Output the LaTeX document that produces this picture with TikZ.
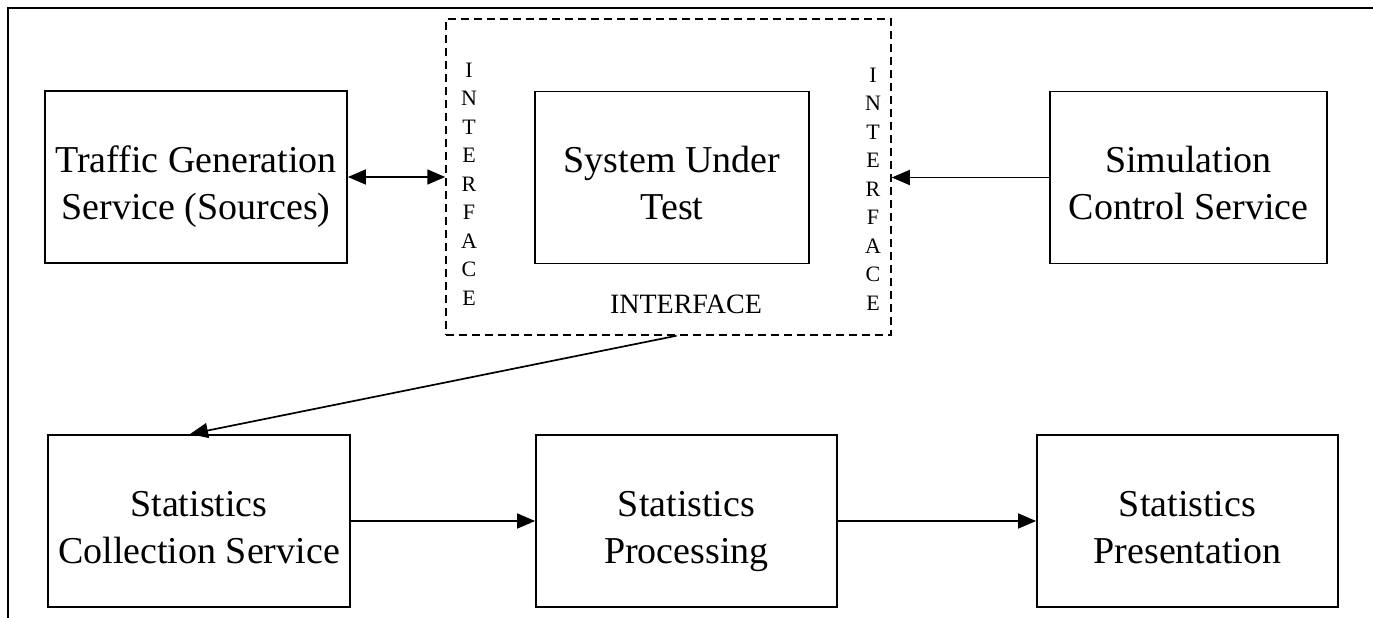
\documentclass[tikz,border=0pt]{standalone}
\usepackage{fontspec}
\setmainfont{Liberation Serif}
\usetikzlibrary{arrows.meta,calc}
\newcommand\topstrut{\rule{0pt}{47pt}}
\newcommand\botstrut{\rule[-10pt]{0pt}{10pt}}
\begin{document}
\begin{tikzpicture}[x=1pt,y=-1pt,
  box/.style={draw,line width=1.8pt,minimum width=302pt,minimum height=172pt,align=center,inner sep=0pt,
    font=\fontsize{38}{47}\selectfont},
  conn/.style={line width=1.7pt,-{Triangle[length=18pt,width=15pt]}},
  vlet/.style={align=center,inner sep=0pt,font=\fontsize{22}{28.5}\selectfont},
  frame/.style={line width=1.8pt}]
\useasboundingbox (0,0) rectangle (1373,618);
\draw[frame] (8,618) -- (8,8) -- (1373,8);
\node[draw,dashed,dash pattern=on 8pt off 5pt,line width=1.5pt,minimum width=445pt,minimum height=316pt,inner sep=0pt] (iface) at (668.5,177) {};
\node[box] (tg) at (196,177) {\topstrut Traffic Generation\\Service (Sources)\botstrut};
\node[box,minimum width=274pt] (sut) at (672,177.5) {\topstrut System Under\\Test\botstrut};
\node[box,minimum width=277pt] (sim) at (1188.5,177.5) {\topstrut Simulation\\Control Service\botstrut};
\node[box] (sc) at (199,521) {\topstrut Statistics\\Collection Service\botstrut};
\node[box,minimum width=301pt] (sp) at (686.5,521) {\topstrut Statistics\\Processing\botstrut};
\node[box,minimum width=301pt] (spr) at (1187.5,521) {\topstrut Statistics\\Presentation\botstrut};
\node[vlet] (il) at (469,184) {I\\N\\T\\E\\R\\F\\A\\C\\E};
\node[vlet] (ir) at (873,189) {I\\N\\T\\E\\R\\F\\A\\C\\E};
\node[inner sep=0pt,font=\fontsize{28}{30}\selectfont] (ib) at (686,304) {INTERFACE};
\draw[conn,{Triangle[length=18pt,width=15pt]}-{Triangle[length=18pt,width=15pt]}] (tg.east) -- (tg.east -| iface.west);
\draw[conn] (sim.west) -- (sim.west -| iface.east);
\draw[conn] ([xshift=8pt]iface.south) -- ([xshift=-9pt]sc.north);
\draw[conn] (sc.east) -- (sp.west);
\draw[conn] (sp.east) -- (spr.west);
\end{tikzpicture}
\end{document}
